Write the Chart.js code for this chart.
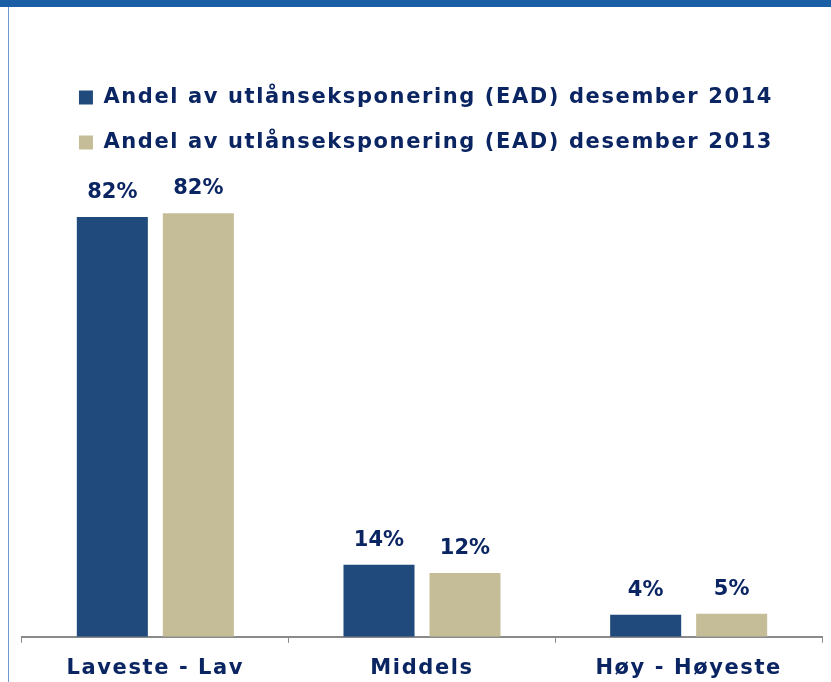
<!DOCTYPE html>
<html>
<head>
<meta charset="utf-8">
<script src="https://cdn.jsdelivr.net/npm/chart.js@4"></script>
<style>
  html, body { margin: 0; padding: 0; background: #fff; }
  #wrap { position: relative; width: 831px; height: 682px; overflow: hidden; }
  #topbar { position: absolute; left: 0; top: 0; width: 831px; height: 7px; background: #1a5fa6; }
  #leftline { position: absolute; left: 8px; top: 7px; width: 1px; height: 675px; background: #6f9ad2; }
  #chart { position: absolute; left: 0; top: 0; }
</style>
</head>
<body>
<div id="wrap">
  <div id="topbar"></div>
  <div id="leftline"></div>
  <canvas id="chart" width="831" height="694"></canvas>
</div>
<script>
// 数据
const categories = ['Laveste - Lav', 'Middels', 'Høy - Høyeste'];
const seriesNames = [
    'Andel av utlånseksponering (EAD) desember 2014',
    'Andel av utlånseksponering (EAD) desember 2013'
];
const ead2014 = [81.7, 14.0, 4.3];
const ead2013 = [82.4, 12.4, 4.5];

const NAVY_TEXT = '#0b2563';
const FONT = '"DejaVu Sans", Verdana, sans-serif';
const SPACING = '1.6px';

// 字距（图例与坐标轴文字）
const letterSpacing = {
    id: 'letterSpacing',
    beforeUpdate(chart) { chart.ctx.letterSpacing = SPACING; },
    beforeDraw(chart) { chart.ctx.letterSpacing = SPACING; },
    afterLayout(chart) {
        // 图例稍微右移
        chart.legend.left += 4;
        chart.legend.right += 4;
    }
};

// 柱顶数值标签
const valueLabels = {
    id: 'valueLabels',
    afterDatasetsDraw(chart) {
        const ctx = chart.ctx;
        ctx.save();
        ctx.letterSpacing = '0px';
        ctx.font = 'bold 21px ' + FONT;
        ctx.fillStyle = NAVY_TEXT;
        ctx.textAlign = 'center';
        ctx.textBaseline = 'bottom';
        chart.data.datasets.forEach((ds, i) => {
            const meta = chart.getDatasetMeta(i);
            meta.data.forEach((bar, j) => {
                ctx.fillText(Math.round(ds.data[j]) + '%', bar.x, bar.y - 14);
            });
        });
        ctx.restore();
    }
};

const ctx = document.getElementById('chart').getContext('2d');
new Chart(ctx, {
    type: 'bar',
    data: {
        labels: categories,
        datasets: [
            {
                label: seriesNames[0],
                data: ead2014,
                backgroundColor: '#214a7c',
                categoryPercentage: 0.645,
                barPercentage: 0.826
            },
            {
                label: seriesNames[1],
                data: ead2013,
                backgroundColor: '#c4bd97',
                categoryPercentage: 0.645,
                barPercentage: 0.826
            }
        ]
    },
    options: {
        responsive: false,
        animation: false,
        layout: {
            padding: { left: 22, right: 9, top: 63, bottom: 0 }
        },
        plugins: {
            legend: {
                display: true,
                position: 'top',
                labels: {
                    boxWidth: 14,
                    boxHeight: 14,
                    padding: 24,
                    color: NAVY_TEXT,
                    font: { family: FONT, size: 21, weight: 'bold' }
                }
            },
            tooltip: { enabled: false }
        },
        scales: {
            x: {
                grid: {
                    display: true,
                    drawOnChartArea: false,
                    drawTicks: true,
                    tickLength: 6,
                    color: '#8a8a8a'
                },
                border: { display: true, color: '#8a8a8a', width: 2 },
                ticks: {
                    color: NAVY_TEXT,
                    padding: 13,
                    font: { family: FONT, size: 21, weight: 'bold' }
                }
            },
            y: {
                display: false,
                beginAtZero: true,
                max: 92.2
            }
        }
    },
    plugins: [letterSpacing, valueLabels]
});
</script>
</body>
</html>
